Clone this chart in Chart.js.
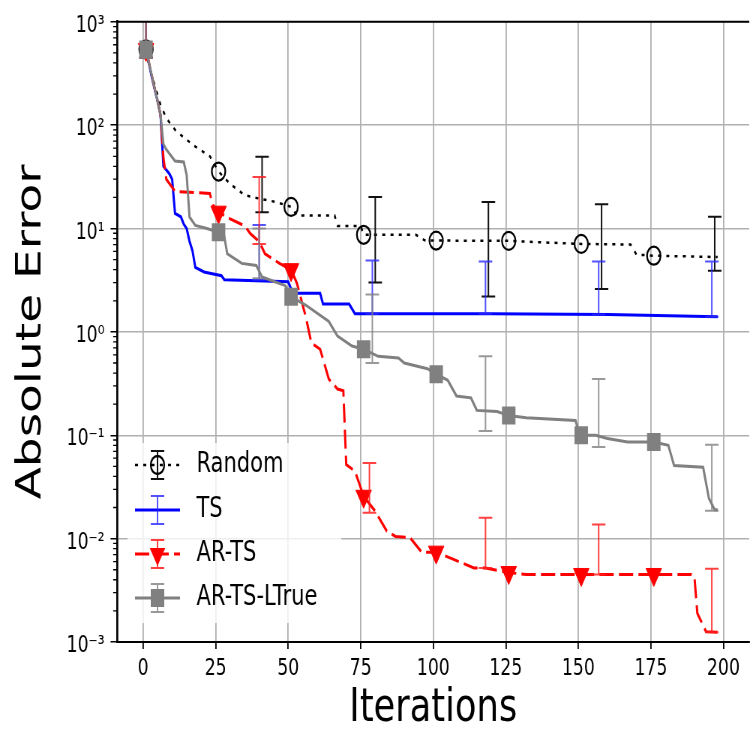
<!DOCTYPE html>
<html>
<head>
<meta charset="utf-8">
<script src="https://cdn.jsdelivr.net/npm/chart.js@4.4.1/dist/chart.umd.min.js"></script>
<style>
html,body{margin:0;padding:0;background:#fff;overflow:hidden;width:752px;height:732px}
#wrap{width:1012px;height:732px;transform:scaleX(0.75);transform-origin:0 0}
</style>
</head>
<body>
<div id="wrap"><canvas id="chart" width="1012" height="732"></canvas></div>
<script>
// axis ticks
let xTicks=[0,25,50,75,100,125,150,175,200];
let yTicks=[1e-3,1e-2,1e-1,1,10,100,1000];
let yTickLabels=["10⁻³","10⁻²","10⁻¹","10⁰","10¹","10²","10³"];

let seriesNames=["Random","TS","AR-TS","AR-TS-LTrue"];
let markerX=[1,26,51,76,101,126,151,176];

// Random
let randomX=[1,2,4,6,8,11,14,18,23,26,30,35,40,46,51,53,66,67,75,76,94,97,101,126,140,151,168,170,176,198];
let randomY=[540,380,245,157,117,90,76,62,50,35.6,27,21,19.5,18,16.2,13.4,13.4,10.6,10.6,8.7,8.7,7.7,7.65,7.6,7.3,7.1,7.0,5.6,5.46,5.3];
let randomErrX=[1,41,80,119,158,197];
let randomErrLo=[450,14.4,3.0,2.2,2.6,3.9];
let randomErrHi=[5000,49.6,20.2,18.1,17.2,13];

// TS
let tsX=[1,3,5,6,7,9,10,11,13,14,15,16,17,18,21,27,28,50,51,53,61,62,71,73,120,160,177,198];
let tsY=[540,290,170,125,40,34,30,14,13,11,10,7.5,6.1,4.2,3.8,3.5,3.2,3.05,2.6,2.36,2.36,1.86,1.86,1.5,1.5,1.47,1.44,1.4];
let tsErrX=[1,40,79,118,157,196];
let tsErrLo=[450,3.2,1.5,1.5,1.47,1.4];
let tsErrHi=[5000,10.8,4.9,4.8,4.8,4.8];

// AR-TS
let arX=[1,3,5,6,7,8,11,23,24,26,30,35,37,40,42,47,51,53,56,58,61,64,67,69,70,73,76,80,84,87,92,96,101,107,114,118,126,132,151,176,189,190,191,194,198];
let arY=[540,300,170,125,48,30,22.9,21.8,17,14.4,12.4,10.6,8.9,7.5,5.7,4.6,4.0,2.96,1.42,0.78,0.68,0.35,0.28,0.27,0.052,0.045,0.0257,0.0184,0.0118,0.0105,0.0102,0.0074,0.0074,0.0063,0.0052,0.0052,0.0047,0.0045,0.0045,0.0045,0.0045,0.0043,0.0019,0.00126,0.00124];
let arErrX=[1,40,78,118,157,196];
let arErrLo=[450,7.1,0.0178,0.0052,0.0045,0.00124];
let arErrHi=[5000,31.6,0.054,0.0159,0.0137,0.0051];

// AR-TS-LTrue
let ltX=[1,3,5,6,7,8,11,14,15,16,18,22,26,28,29,34,39,41,44,49,51,56,64,67,72,76,81,88,90,98,101,105,108,113,115,122,126,132,149,150,151,156,160,167,176,181,183,193,195,197,198];
let ltY=[540,300,170,125,65,58,45,44,33,12.9,10.7,10,9.2,8.3,5.7,4.6,4.4,3.4,3.16,2.8,2.19,1.82,1.26,0.91,0.73,0.68,0.58,0.56,0.50,0.44,0.39,0.34,0.24,0.23,0.174,0.17,0.155,0.148,0.139,0.111,0.1,0.1,0.093,0.086,0.086,0.08,0.051,0.049,0.0245,0.019,0.019];
let ltErrX=[1,40,79,118,157,196];
let ltErrLo=[450,3.3,0.5,0.11,0.077,0.0186];
let ltErrHi=[5000,10,2.3,0.58,0.35,0.081];

Chart.defaults.font.family="'DejaVu Sans', sans-serif";
Chart.defaults.color="#000";

function pts(xs,ys){ return xs.map((x,i)=>({x:x,y:ys[i]})); }
function markR(r){ return ctx=>markerX.includes(ctx.raw&&ctx.raw.x)?r:0; }

let errSets=[
 {x:randomErrX,lo:randomErrLo,hi:randomErrHi,color:"#111"},
 {x:tsErrX,lo:tsErrLo,hi:tsErrHi,color:"rgba(40,40,255,0.8)"},
 {x:arErrX,lo:arErrLo,hi:arErrHi,color:"rgba(255,30,30,0.85)"},
 {x:ltErrX,lo:ltErrLo,hi:ltErrHi,color:"rgba(128,128,128,0.8)"}
];

let errorBarPlugin={
 id:"errbars",
 afterDatasetDraw(chart,args){
  let e=errSets[args.index]; if(!e) return;
  let ctx=chart.ctx,xs=chart.scales.x,ys=chart.scales.y,a=chart.chartArea;
  ctx.save();
  ctx.beginPath();ctx.rect(a.left,a.top,a.right-a.left,a.bottom-a.top);ctx.clip();
  ctx.strokeStyle=e.color;ctx.lineWidth=2;
  for(let i=0;i<e.x.length;i++){
   let px=xs.getPixelForValue(e.x[i]);
   let y1=ys.getPixelForValue(e.hi[i]),y2=ys.getPixelForValue(e.lo[i]);
   ctx.beginPath();
   ctx.moveTo(px,y1);ctx.lineTo(px,y2);
   ctx.moveTo(px-9,y1);ctx.lineTo(px+9,y1);
   ctx.moveTo(px-9,y2);ctx.lineTo(px+9,y2);
   ctx.stroke();
  }
  ctx.restore();
 }
};

let legendStyles=[
 {color:"#000",width:2.5,dash:[4,7],marker:"circle"},
 {color:"#0000ff",width:3,dash:[],marker:null},
 {color:"#ff0000",width:3,dash:[19,7],marker:"tri"},
 {color:"#808080",width:3,dash:[],marker:"square"}
];

let legendPlugin={
 id:"mylegend",
 afterDatasetsDraw(chart){
  let ctx=chart.ctx;
  ctx.save();
  ctx.fillStyle="rgba(255,255,255,0.8)";
  ctx.fillRect(170,443,285,180);
  let rows=[465,510,554,598];
  for(let i=0;i<seriesNames.length;i++){
   let s=legendStyles[i],y=rows[i],cx=210;
   ctx.strokeStyle=s.color;ctx.lineWidth=s.width;ctx.setLineDash(s.dash);
   ctx.beginPath();ctx.moveTo(180,y);ctx.lineTo(240,y);ctx.stroke();
   ctx.setLineDash([]);
   ctx.strokeStyle=errSets[i].color;ctx.lineWidth=2;
   ctx.beginPath();
   ctx.moveTo(cx,y-14);ctx.lineTo(cx,y+14);
   ctx.moveTo(cx-9,y-14);ctx.lineTo(cx+9,y-14);
   ctx.moveTo(cx-9,y+14);ctx.lineTo(cx+9,y+14);
   ctx.stroke();
   if(s.marker=="circle"){
    ctx.strokeStyle="#000";ctx.lineWidth=2.3;
    ctx.beginPath();ctx.arc(cx,y,9,0,Math.PI*2);ctx.stroke();
   } else if(s.marker=="tri"){
    ctx.fillStyle=s.color;
    ctx.beginPath();ctx.moveTo(cx-10.4,y-6);ctx.lineTo(cx+10.4,y-6);ctx.lineTo(cx,y+12);ctx.closePath();ctx.fill();
   } else if(s.marker=="square"){
    ctx.fillStyle=s.color;
    ctx.fillRect(cx-9,y-9,18,18);
   }
   ctx.fillStyle="#000";
   ctx.font="28px 'DejaVu Sans'";
   ctx.textBaseline="middle";
   ctx.fillText(seriesNames[i],262,y);
  }
  ctx.restore();
 }
};

let framePlugin={
 id:"frame",
 afterDraw(chart){
  let ctx=chart.ctx,a=chart.chartArea,ys=chart.scales.y;
  ctx.save();
  ctx.strokeStyle="#000";
  ctx.lineWidth=2;
  ctx.beginPath();ctx.moveTo(a.left,a.top);ctx.lineTo(a.right,a.top);ctx.stroke();
  ctx.lineWidth=1.3;
  ctx.beginPath();
  for(let e=-3;e<3;e++){
   for(let k=2;k<10;k++){
    let py=ys.getPixelForValue(k*Math.pow(10,e));
    ctx.moveTo(a.left-5.5,py);ctx.lineTo(a.left,py);
   }
  }
  ctx.stroke();
  ctx.restore();
 }
};

let chart=new Chart(document.getElementById("chart").getContext("2d"),{
 type:"line",
 data:{
  datasets:[
   {label:seriesNames[0],data:pts(randomX,randomY),borderColor:"#000",borderWidth:2.5,borderDash:[4,7],
    pointStyle:"circle",pointRadius:markR(9),pointBorderColor:"#000",pointBackgroundColor:"rgba(0,0,0,0)",pointBorderWidth:2.3,order:4},
   {label:seriesNames[1],data:pts(tsX,tsY),borderColor:"#0000ff",borderWidth:3,pointRadius:0,order:3},
   {label:seriesNames[2],data:pts(arX,arY),borderColor:"#ff0000",borderWidth:3,borderDash:[19,7],
    pointStyle:"triangle",pointRotation:180,pointRadius:markR(12),pointBorderColor:"#ff0000",pointBackgroundColor:"#ff0000",pointBorderWidth:1,order:2},
   {label:seriesNames[3],data:pts(ltX,ltY),borderColor:"#808080",borderWidth:3,
    pointStyle:"rect",pointRadius:markR(12.7),pointBorderColor:"#808080",pointBackgroundColor:"#808080",pointBorderWidth:0,order:1}
  ]
 },
 options:{
  responsive:false,
  animation:false,
  devicePixelRatio:1,
  layout:{padding:{top:16,right:4.6,left:0,bottom:0}},
  plugins:{legend:{display:false},tooltip:{enabled:false}},
  elements:{line:{tension:0},point:{hoverRadius:0}},
  scales:{
   x:{
    type:"linear",min:-8.9,max:208.9,
    afterBuildTicks:s=>{s.ticks=xTicks.map(v=>({value:v}));},
    afterFit:s=>{s.height=90;},
    grid:{color:"#b0b0b0",lineWidth:1.8,tickColor:"#000",tickLength:7},
    border:{color:"#000",width:2},
    ticks:{font:{size:23},padding:6,autoSkip:false,maxRotation:0,color:"#000"},
    title:{display:true,text:"Iterations",font:{size:47,lineHeight:1},padding:{top:0,bottom:0},color:"#000"}
   },
   y:{
    type:"logarithmic",min:1e-3,max:1e3,
    afterBuildTicks:s=>{s.ticks=yTicks.map(v=>({value:v}));},
    afterFit:s=>{s.width=156.4;},
    grid:{color:"#b0b0b0",lineWidth:1.5,tickColor:"#000",tickLength:9},
    border:{color:"#000",width:2.7},
    ticks:{callback:(v,i)=>yTickLabels[i],font:{size:23},padding:8,labelOffset:4,autoSkip:false,color:"#000"},
    title:{display:true,text:"Absolute Error",font:{size:47,lineHeight:1},padding:{top:18,bottom:0},color:"#000"}
   }
  }
 },
 plugins:[errorBarPlugin,legendPlugin,framePlugin]
});
</script>
</body>
</html>
